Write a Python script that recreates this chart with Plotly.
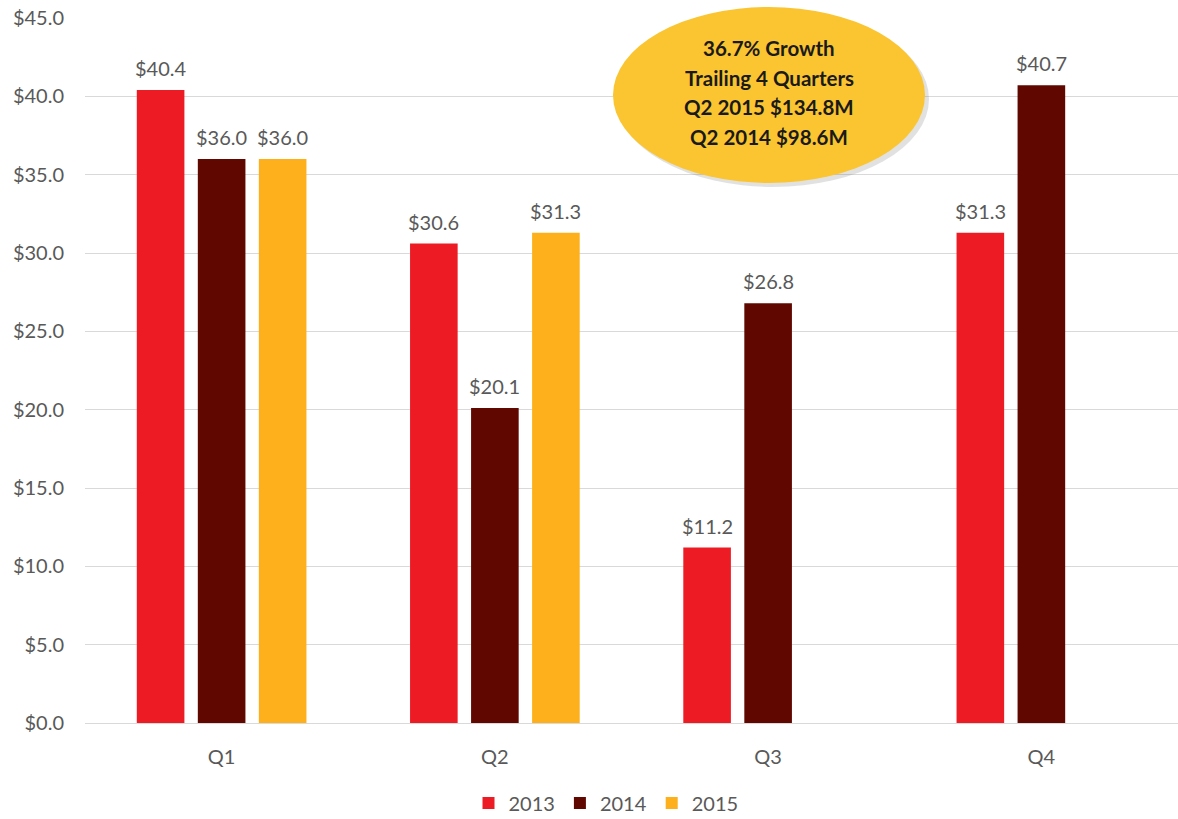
import plotly.graph_objects as go

quarters = ["Q1", "Q2", "Q3", "Q4"]
rev_2013 = [40.4, 30.6, 11.2, 31.3]
rev_2014 = [36.0, 20.1, 26.8, 40.7]
rev_2015 = [36.0, 31.3, None, None]

series = [
    ("2013", rev_2013, "#ED1C24"),
    ("2014", rev_2014, "#600800"),
    ("2015", rev_2015, "#FDB01B"),
]

callout_lines = ["36.7% Growth", "Trailing 4 Quarters", "Q2 2015 $134.8M", "Q2 2014 $98.6M"]

W, H = 1178, 819
ML, MR, MT, MB = 85, 0, 18, 96
PW, PH = W - ML - MR, H - MT - MB
BARGAP, GROUPGAP = 0.33, 0.22
FONT = "Lato"
GREY = "#595959"

def px(x):
    return (x - ML) / PW

def py(y):
    return (H - MB - y) / PH

fig = go.Figure()
slot = (1 - BARGAP) / len(series)
for k, (name, vals, color) in enumerate(series):
    fig.add_trace(go.Bar(
        x=quarters, y=vals, name=name,
        marker=dict(color=color, line=dict(width=0)),
    ))
    # value labels above each bar
    for i, v in enumerate(vals):
        if v is None:
            continue
        fig.add_annotation(
            x=i + (k - (len(series) - 1) / 2) * slot, y=v, xref="x", yref="y",
            text=f"${v:.1f}", showarrow=False, yanchor="bottom", yshift=8,
            font=dict(size=20, color=GREY, family=FONT),
        )

# callout ellipse with a soft shadow
fig.add_shape(type="circle", xref="paper", yref="paper",
              x0=px(617), x1=px(929), y0=py(187), y1=py(11),
              fillcolor="rgba(120,120,120,0.22)", line=dict(width=0), layer="above")
fig.add_shape(type="circle", xref="paper", yref="paper",
              x0=px(613), x1=px(925), y0=py(183), y1=py(7),
              fillcolor="#FBC531", line=dict(width=0), layer="above")
for j, line in enumerate(callout_lines):
    fig.add_annotation(xref="paper", yref="paper", x=px(769), y=py(48 + 29.7 * j),
                       text=f"<b>{line}</b>", showarrow=False, yanchor="middle",
                       font=dict(size=20.5, color="#1a1a1a", family=FONT))

fig.update_layout(
    width=W, height=H,
    margin=dict(l=ML, r=MR, t=MT, b=MB, pad=0, autoexpand=False),
    paper_bgcolor="white", plot_bgcolor="white",
    font=dict(family=FONT, size=20, color=GREY),
    barmode="group", bargap=BARGAP, bargroupgap=GROUPGAP,
    showlegend=True,
    legend=dict(orientation="h", x=px(606), xanchor="center", y=py(803), yanchor="middle",
                font=dict(size=20, color=GREY), itemwidth=30, tracegroupgap=0),
    xaxis=dict(showgrid=False, showline=True, linecolor="#D9D9D9", linewidth=1,
               ticks="", tickfont=dict(size=20, color=GREY), ticklabelstandoff=16),
    yaxis=dict(range=[0, 45], dtick=5, tickprefix="$", tickformat=".1f",
               gridcolor="#D9D9D9", gridwidth=1, zeroline=False, showline=False,
               tickfont=dict(size=20, color=GREY), ticklabelstandoff=20),
)

fig.write_html("out.html")
